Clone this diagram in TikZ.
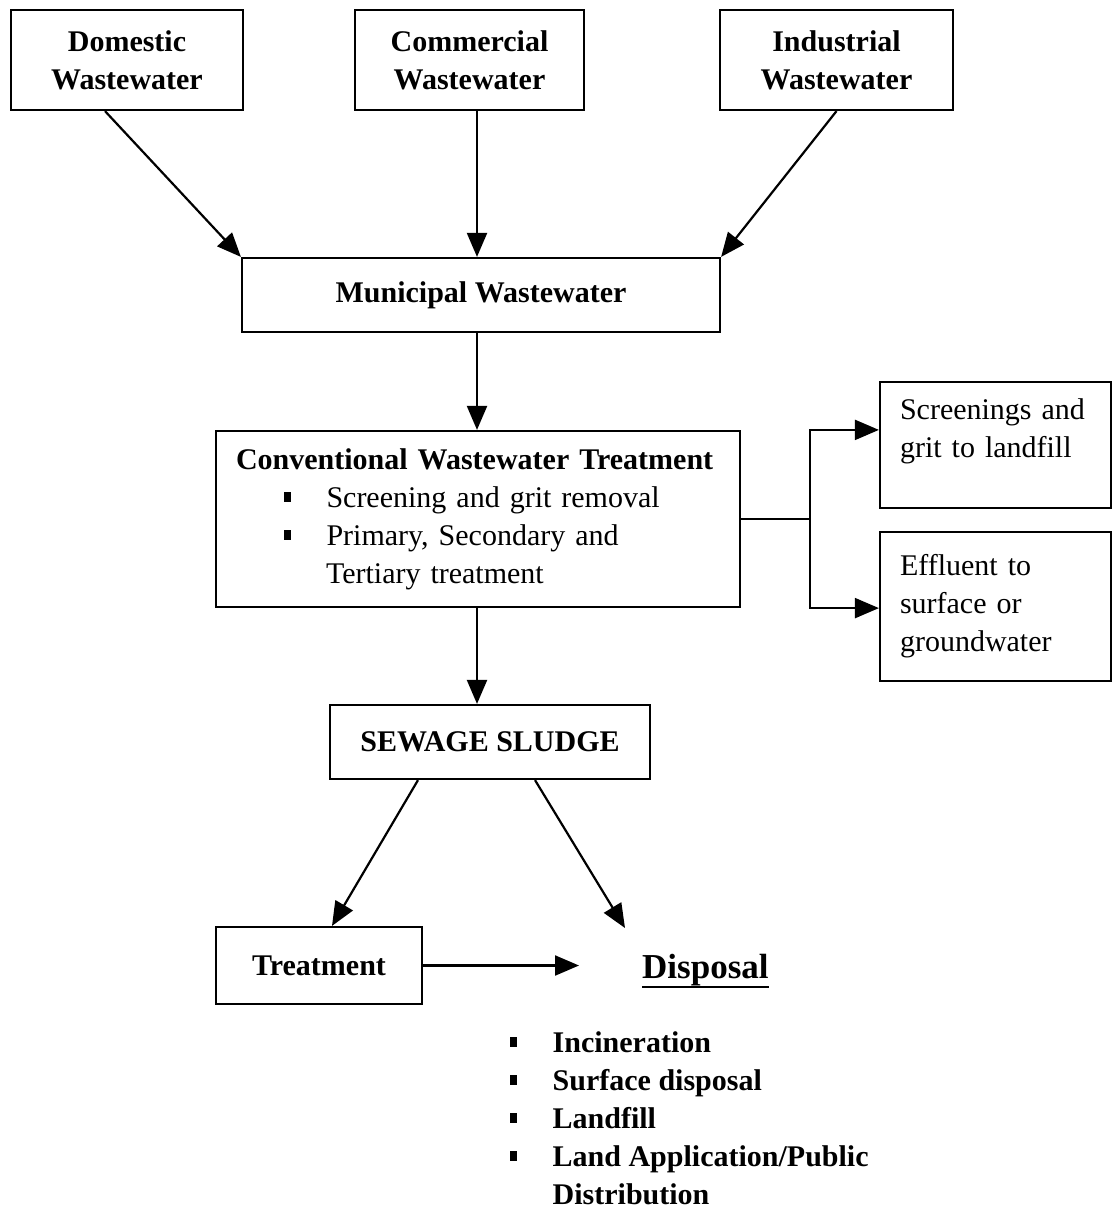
\documentclass[tikz,border=0pt]{standalone}
\usepackage{fontspec}
\setmainfont{Liberation Serif}
\usetikzlibrary{arrows.meta}
\newcommand{\sqb}{\rule[5pt]{6.5pt}{10pt}}

\begin{document}
\begin{tikzpicture}[x=1pt,y=-1pt,
  font=\fontsize{30}{38}\selectfont,
  hdr/.style={font=\fontsize{30}{38}\selectfont\bfseries},
  box/.style={draw,line width=2.2pt,inner sep=0pt,align=center},
  flow/.style={line width=2.2pt,-{Triangle[length=24pt,width=20pt]}}]
  \useasboundingbox (0,0) rectangle (1119,1209);
  % sources of wastewater
  \node[box,hdr,minimum width=232pt,minimum height=100pt] (dom) at (127,60) {Domestic\\Wastewater};
  \node[box,hdr,minimum width=229pt,minimum height=100pt] (com) at (469.5,60) {Commercial\\Wastewater};
  \node[box,hdr,minimum width=233pt,minimum height=100pt] (ind) at (836.5,60) {Industrial\\Wastewater};
  \node[box,hdr,minimum width=478pt,minimum height=74pt] (mun) at (481,295) {Municipal Wastewater};
  % treatment plant
  \node[box,minimum height=176pt,text width=484pt,inner xsep=20pt,align=left] (conv) at (478,519)
    {\textbf{Conventional Wastewater Treatment}\\
     \hspace*{48pt}\sqb\hspace*{36pt}Screening and grit removal\\
     \hspace*{48pt}\sqb\hspace*{36pt}Primary, Secondary and\\
     \hspace*{90pt}Tertiary treatment};
  \node[box,minimum height=126pt,text width=191pt,inner xsep=20pt,align=left] (scr) at (995.5,445)
    {Screenings and\\grit to landfill\\[-16pt] \strut};
  \node[box,minimum height=149pt,text width=191pt,inner xsep=20pt,align=left] (eff) at (995.5,606.5)
    {Effluent to\\surface or\\groundwater};
  % sludge
  \node[box,hdr,minimum width=320pt,minimum height=74pt] (sludge) at (490,742) {SEWAGE SLUDGE};
  \node[box,hdr,minimum width=206pt,minimum height=77pt] (treat) at (319,965.5) {Treatment};
  \node[inner sep=0pt,anchor=base west,font=\fontsize{35}{42}\selectfont\bfseries] (disp) at (642,978) {Disposal};
  \draw[line width=2.5pt] ([yshift=-9pt]disp.base west) -- ([yshift=-9pt]disp.base east);
  \node[hdr,inner sep=0pt,anchor=base west] (displist) at (510,1052)
    {\begin{tabular}[t]{@{}l@{\hspace{36pt}}l@{}}
      \sqb & Incineration\\
      \sqb & Surface disposal\\
      \sqb & Landfill\\
      \sqb & Land Application/Public\\
           & Distribution
    \end{tabular}};

  \coordinate (spine) at (477,0);
  \coordinate (split) at (810,519);
  \coordinate (dispin) at (625,928);
  \coordinate (disparr) at (579,965.5);

  \draw[flow] ([xshift=-22pt]dom.south) -- (mun.north west);
  \draw[flow] (spine |- com.south) -- (spine |- mun.north);
  \draw[flow] (ind.south) -- (mun.north east);
  \draw[flow] (spine |- mun.south) -- (spine |- conv.north);
  \draw[line width=2.2pt] (conv.east) -- (split);
  \draw[flow] (split) |- (scr.west |- conv.north);
  \draw[flow] (split) |- (eff.west |- conv.south);
  \draw[flow] (spine |- conv.south) -- (spine |- sludge.north);
  \draw[flow] ([xshift=-72pt]sludge.south) -- ([xshift=13pt]treat.north);
  \draw[flow] ([xshift=45pt]sludge.south) -- (dispin);
  \draw[flow] (treat.east) -- (disparr);
\end{tikzpicture}
\end{document}
